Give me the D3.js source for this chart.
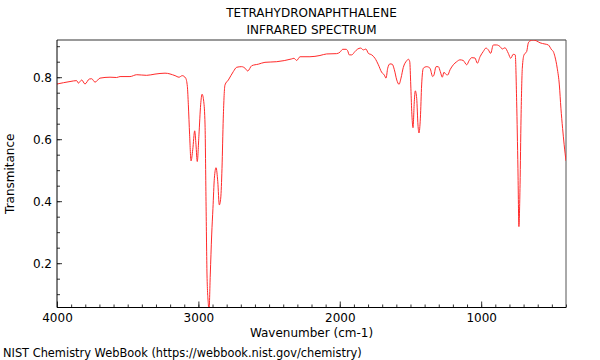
<!DOCTYPE html>
<html>
<head>
<meta charset="utf-8">
<script src="https://cdn.jsdelivr.net/npm/d3@7"></script>
<style>
  html, body { margin: 0; padding: 0; background: #fff; }
  svg { display: block; font-family: "DejaVu Sans", sans-serif; }
</style>
</head>
<body>
<svg id="chart" width="600" height="360"></svg>
<script>
const titleLines = ["TETRAHYDRONAPHTHALENE", "INFRARED SPECTRUM"];
const xLabel = "Wavenumber (cm-1)";
const yLabel = "Transmitance";
const footer = "NIST Chemistry WebBook (https://webbook.nist.gov/chemistry)";

const xTicks = [4000, 3000, 2000, 1000];
const yTicks = [0.2, 0.4, 0.6, 0.8];

const wavenumber = [4000, 3908, 3861, 3849, 3825, 3802, 3772, 3755, 3731, 3696, 3625, 3578, 3554, 3484, 3436, 3366,
  3307, 3236, 3165, 3137, 3114, 3090, 3078, 3071, 3062, 3052, 3040, 3026, 3017, 3008, 2996, 2984, 2974, 2962, 2953,
  2946, 2939, 2930, 2925, 2916, 2906, 2897, 2887, 2875, 2863, 2852, 2842, 2833, 2824, 2812, 2788, 2753, 2729, 2694,
  2670, 2651, 2623, 2576, 2529, 2446, 2340, 2324, 2305, 2281, 2211, 2140, 2093, 2022, 1998, 1979, 1956, 1944, 1933,
  1916, 1892, 1876, 1852, 1833, 1815, 1798, 1774, 1751, 1727, 1704, 1685, 1673, 1661, 1645, 1629, 1614, 1597, 1581,
  1567, 1551, 1527, 1515, 1505, 1498, 1491, 1482, 1473, 1466, 1456, 1447, 1440, 1430, 1421, 1409, 1385, 1362, 1343,
  1334, 1319, 1303, 1289, 1275, 1263, 1251, 1237, 1220, 1197, 1173, 1150, 1127, 1102, 1086, 1067, 1044, 1027, 1008,
  985, 966, 949, 933, 914, 890, 867, 850, 832, 808, 791, 773, 759, 749, 740, 733, 725, 718, 709, 697, 678, 667, 655,
  632, 608, 584, 549, 525, 501, 490, 478, 462, 447, 436, 424, 413, 400];

const transmittance = [0.778, 0.786, 0.789, 0.781, 0.791, 0.778, 0.794, 0.795, 0.784, 0.797, 0.800, 0.799, 0.802, 0.802, 0.808, 0.806,
  0.810, 0.813, 0.805, 0.800, 0.805, 0.797, 0.770, 0.711, 0.614, 0.530, 0.566, 0.627, 0.582, 0.528, 0.614, 0.711, 0.745, 0.721, 0.646,
  0.399, 0.162, 0.070, 0.045, 0.162, 0.291, 0.377, 0.474, 0.508, 0.463, 0.388, 0.410, 0.506, 0.668, 0.775, 0.791, 0.818, 0.832, 0.834,
  0.829, 0.820, 0.837, 0.842, 0.848, 0.850, 0.859, 0.861, 0.854, 0.866, 0.866, 0.870, 0.875, 0.876, 0.881, 0.890, 0.890, 0.885, 0.872,
  0.872, 0.883, 0.890, 0.894, 0.888, 0.891, 0.877, 0.872, 0.861, 0.840, 0.816, 0.807, 0.797, 0.829, 0.843, 0.842, 0.824, 0.791, 0.777,
  0.797, 0.831, 0.853, 0.858, 0.850, 0.775, 0.689, 0.637, 0.721, 0.756, 0.732, 0.646, 0.620, 0.668, 0.775, 0.829, 0.834, 0.829, 0.802,
  0.807, 0.834, 0.834, 0.818, 0.800, 0.816, 0.810, 0.807, 0.824, 0.840, 0.850, 0.856, 0.854, 0.840, 0.853, 0.863, 0.862, 0.845, 0.866,
  0.883, 0.894, 0.888, 0.877, 0.904, 0.904, 0.899, 0.891, 0.895, 0.877, 0.861, 0.874, 0.872, 0.721, 0.506, 0.318, 0.453, 0.668, 0.829, 0.872, 0.883, 0.910, 0.917,
  0.920, 0.917, 0.911, 0.907, 0.904, 0.888, 0.883, 0.866, 0.829, 0.775, 0.700, 0.635, 0.582, 0.530];

const data = wavenumber.map((w, i) => ({ w, t: transmittance[i] }));

const svg = d3.select("#chart");
const mLeft = 57, mRight = 566, mTop = 40, mBottom = 307.5;

const x = d3.scaleLinear().domain([4000, 400]).range([mLeft, mRight]);
const y = d3.scaleLinear().domain([0.057, 0.92]).range([mBottom, mTop]);

// clip
svg.append("defs").append("clipPath").attr("id", "plotclip")
  .append("rect").attr("x", mLeft).attr("y", mTop).attr("width", mRight - mLeft).attr("height", mBottom - mTop);

// frame
svg.append("line").attr("x1", mLeft).attr("x2", mRight).attr("y1", mTop).attr("y2", mTop)
  .attr("stroke", "#999").attr("stroke-width", 2);
svg.append("line").attr("x1", mRight).attr("x2", mRight).attr("y1", mTop).attr("y2", mBottom)
  .attr("stroke", "#555").attr("stroke-width", 1);

// line
const line = d3.line().x(d => x(d.w)).y(d => y(d.t)).curve(d3.curveMonotoneX);
svg.append("path").datum(data)
  .attr("clip-path", "url(#plotclip)")
  .attr("fill", "none").attr("stroke", "#ff2a2a").attr("stroke-width", 1)
  .attr("d", line);

// x axis
const xMinor = d3.range(4000, 399, -100);
const xAxisG = svg.append("g").attr("transform", `translate(0,${mBottom})`);
xAxisG.append("g").call(d3.axisBottom(x).tickValues(xMinor).tickSize(-3).tickFormat(""))
  .call(g => g.select(".domain").remove())
  .call(g => g.selectAll("line").attr("stroke", "#333"));
xAxisG.append("g").call(d3.axisBottom(x).tickValues(xTicks).tickSize(-6).tickPadding(6).tickFormat(d3.format("d")))
  .call(g => g.select(".domain").remove())
  .call(g => g.selectAll("line").attr("stroke", "#333"))
  .call(g => g.selectAll("text").attr("font-size", 12).attr("font-family", "DejaVu Sans").attr("fill", "#000"));
svg.append("line").attr("x1", mLeft).attr("x2", mRight).attr("y1", mBottom).attr("y2", mBottom)
  .attr("stroke", "#000").attr("stroke-width", 1);

// y axis
const yMinor = d3.range(0.1, 0.92, 0.05).map(v => +v.toFixed(2));
const yAxisG = svg.append("g").attr("transform", `translate(${mLeft},0)`);
yAxisG.append("g").call(d3.axisLeft(y).tickValues(yMinor).tickSize(-3).tickFormat(""))
  .call(g => g.select(".domain").remove())
  .call(g => g.selectAll("line").attr("stroke", "#333"));
yAxisG.append("g").call(d3.axisLeft(y).tickValues(yTicks).tickSize(-5).tickPadding(5).tickFormat(d3.format(".1f")))
  .call(g => g.select(".domain").remove())
  .call(g => g.selectAll("line").attr("stroke", "#333"))
  .call(g => g.selectAll("text").attr("font-size", 12).attr("font-family", "DejaVu Sans").attr("fill", "#000"));
svg.append("line").attr("x1", mLeft).attr("x2", mLeft).attr("y1", mTop).attr("y2", mBottom)
  .attr("stroke", "#000").attr("stroke-width", 1);

// titles
svg.append("g").selectAll("text").data(titleLines).join("text")
  .attr("x", (mLeft + mRight) / 2).attr("y", (d, i) => 17 + i * 17)
  .attr("text-anchor", "middle").attr("font-size", 12).text(d => d);

svg.append("text").attr("x", (mLeft + mRight) / 2).attr("y", 337)
  .attr("text-anchor", "middle").attr("font-size", 12).text(xLabel);

svg.append("text").attr("transform", `translate(14,${(mTop + mBottom) / 2}) rotate(-90)`)
  .attr("text-anchor", "middle").attr("font-size", 12).text(yLabel);

svg.append("text").attr("x", 3).attr("y", 357).attr("font-size", 11.4).text(footer);
</script>
</body>
</html>
